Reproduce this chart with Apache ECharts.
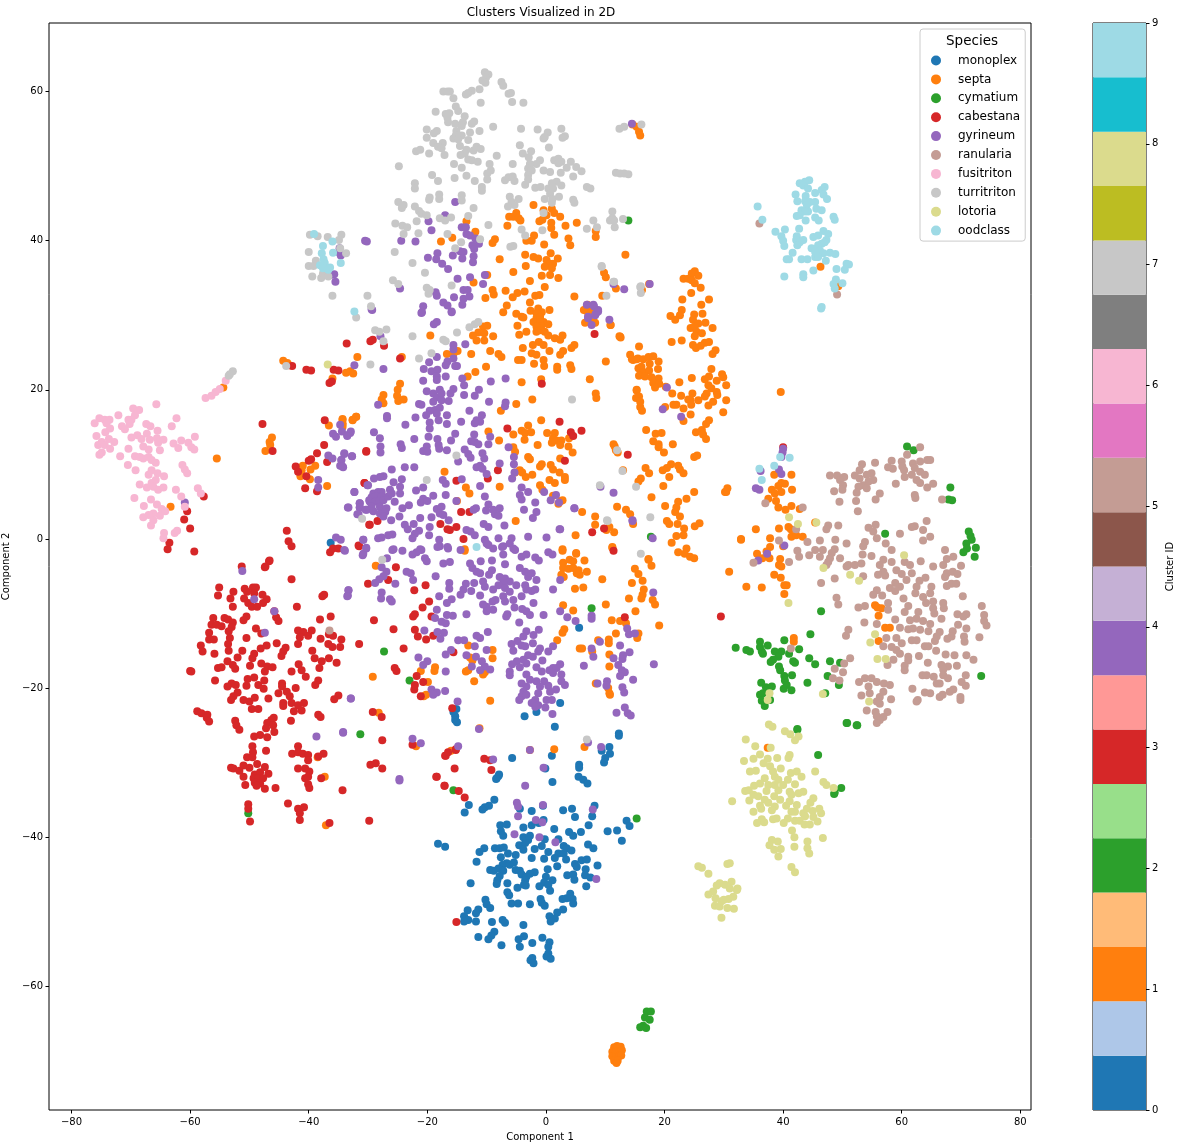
<!DOCTYPE html>
<html>
<head>
<meta charset="utf-8">
<script src="https://cdn.jsdelivr.net/npm/echarts@6/dist/echarts.min.js"></script>
<style>html,body{margin:0;padding:0;background:#fff}#c{width:1181px;height:1148px}</style>
</head>
<body>
<div id="c"></div>
<script>
const monoplex=[[-36.3,-.5],[-15.1,-22.8],[-15.6,-23.2],[-15.3,-23.8],[-15.3,-24.3],[-15,-24.6],[5.6,-11.9],[2.4,-22],[-1.6,-23.2],[-3.6,-23.8],[1.5,-25.2],[12.3,-26.1],[12.3,-26.4],[10.7,-27.9],[9.4,-28.4],[10.8,-28.8],[10,-29.4],[9.8,-30],[1,-29.1],[-5.7,-29.4],[-.1,-30.8],[5.6,-30.3],[5.6,-30.7],[-7.9,-31.6],[-8.3,-32.1],[5.5,-31.9],[6.3,-32.3],[7,-32.8],[-8,-31.8],[-8.4,-32.2],[1.1,-32.6],[-8.7,-35],[-9.6,-35.8],[-10.3,-36],[-10.7,-36.3],[-13,-35.7],[-13.7,-36.7],[-.5,-35.8],[-4.4,-36.2],[-2.4,-36.5],[2.9,-36.4],[4.4,-36.2],[4.9,-37.3],[8.2,-35.8],[7.8,-37.2],[7.2,-38.4],[13.6,-37.8],[14.1,-38.5],[10.4,-39.2],[12,-39.1],[12.8,-40.5],[-.4,-37.7],[-1.2,-38.1],[-2.4,-38.4],[-3.8,-38.7],[1.4,-38.9],[-7.7,-38.4],[-6.6,-38.3],[-7.6,-39.2],[-7.2,-39.8],[-3.8,-40],[-2.7,-39.8],[-3,-40.4],[-.2,-40.3],[2.1,-40.3],[3.9,-39.3],[4.6,-39.8],[5.9,-39.3],[-18.2,-40.9],[-17,-41.3],[7.1,-41],[8,-41.5],[-4.5,-41.1],[-3.5,-40.8],[-3.8,-41.7],[-1.9,-41.6],[-.7,-41.2],[-10.4,-41.5],[-11.2,-42],[-8.6,-41.5],[-7.8,-41.5],[-7.1,-41.4],[-11.7,-43.3],[-6.4,-42.2],[-5.1,-42.4],[-7.6,-42.7],[-2.4,-42.8],[-.3,-42.9],[.4,-42],[3,-41.2],[3.5,-41.5],[4.3,-41.8],[2.1,-42.2],[3,-42.2],[1.5,-42.8],[3.4,-43],[4.9,-43.6],[6,-43.1],[6.9,-43],[8.7,-43.8],[1.9,-43.9],[5.2,-44],[-6.6,-43.5],[-7.3,-43.7],[-6.1,-43.7],[-5.4,-43.4],[-8,-44.2],[-9.4,-44.4],[-8.8,-44.5],[-7.2,-44.5],[-5.1,-44.4],[-4.4,-44.5],[.3,-44.3],[-1.9,-44.7],[-2.7,-44.9],[-4.1,-45],[-3.3,-45.3],[6.7,-44.3],[3.6,-45.1],[4.6,-45],[6.6,-45.1],[7.5,-45.4],[4.8,-45.7],[-7.8,-45.2],[-8.2,-45.8],[-8.3,-46.3],[-6.5,-46.2],[-12.7,-46.2],[-3.5,-45.8],[-3.7,-46.4],[-4.8,-46.8],[-3.4,-46.5],[0,-45.3],[1.1,-45.8],[-.3,-46.1],[-1.1,-46.6],[.4,-46.4],[.7,-47.2],[6.8,-46.6],[-6.5,-47.4],[-6.2,-47.8],[-.9,-48.3],[2.8,-48.3],[4.1,-47.6],[4.5,-48.3],[4.6,-48.9],[3.5,-48.2],[-10.2,-48.4],[-10,-49],[-9.4,-49.5],[-5.8,-48.9],[-4.7,-48.9],[-2.7,-49],[-.7,-48.8],[-.2,-49.2],[2.9,-49.7],[1.9,-50.1],[-13.2,-49.8],[-11.4,-49.7],[-11.8,-50.2],[-13.8,-50.6],[-13.1,-51.1],[-13.8,-51.3],[-11.8,-51.3],[-9.1,-51.4],[-7.3,-51.1],[-6.9,-51.5],[.6,-50.6],[1.5,-50.9],[.8,-51.3],[-3.8,-51.8],[-8.7,-52.7],[-9.2,-53.2],[-9.7,-53.7],[-11.4,-53.4],[-7.5,-54.5],[-3.7,-53.3],[-4.6,-53.7],[-.6,-53.5],[-2.3,-54.2],[.6,-54.1],[.4,-54.7],[-4.4,-54.7],[.4,-55.6],[.1,-56],[.8,-56.3],[-2.3,-56.2],[-2.6,-56.5],[-2.1,-56.9]];
const septa=[[-54.4,20.3],[-55.5,10.8],[-63.3,4.3],[-46.2,13.6],[-46.6,13],[-46.5,12.6],[-47.3,11.8],[-43.6,23.6],[-44.3,23.9],[-43.3,23.3],[-33.7,22.3],[-33,22.5],[-32.5,22.2],[-36,21.5],[-36.6,15.2],[-34.3,16],[-34.3,15.5],[-34.3,15],[-32.6,16],[-32,16.4],[-41,9.8],[-41.2,9.2],[-41.4,8.4],[-38.9,9.8],[-39.7,9.3],[-39.8,8],[-36.9,7.1],[14.6,55.6],[15.3,55.3],[15.7,54.6],[15.9,54.1],[-2.1,44.8],[-.4,44.1],[1,44.3],[1.4,43.7],[2.4,43.2],[.1,43.4],[-.6,42.8],[-1.1,42.6],[-5,43.7],[-6.2,43.2],[-5.5,43.2],[-4.6,43],[-4.3,42.7],[5.2,42.4],[-6.5,42],[.9,42.4],[.9,41.7],[3.3,42],[8.4,41.3],[8.4,40.5],[1.4,40.8],[-13.4,42.6],[-11.9,41.2],[-15.8,40.4],[-17.7,39.9],[-8.6,40.2],[-9,39.7],[-2,40.7],[-2.4,40],[-3.3,40],[3.8,40.3],[4.1,39.4],[-.3,39.5],[13.4,38.1],[-3.5,38.1],[-2.1,37.8],[-1.3,37.6],[.8,38.3],[2,37.6],[.1,37.4],[.7,36.9],[1.2,36.9],[-.2,36.5],[1,36.3],[-7.8,37.5],[-3.4,36.6],[-5.5,35.8],[-.7,35.3],[.7,35.4],[2.1,35],[-9.9,35.4],[-12.2,34.4],[-2.7,34.6],[-.2,33.8],[-6.8,33.3],[-5.6,32.4],[-4.8,33],[-3.6,33.2],[-1.8,32.6],[-1.1,32.7],[-2.7,31.7],[-9,33.4],[-8.8,32.8],[-10.2,32.3],[4.8,32.5],[9.5,32.6],[9.8,35.7],[10.1,35.1],[11.8,33.6],[16.2,33.4],[17.4,34.2],[-6.6,31.3],[-7.2,30.4],[-5,30.2],[-4.1,29.8],[-2.6,30.6],[-1.3,30.9],[-.7,30.4],[.6,30.7],[-1,29.8],[6.9,31.2],[6.8,30.6],[7.5,30.4],[-1.6,29.6],[-3.8,29.7],[-1.6,30.3],[-1,29.7],[-2.1,29.1],[-.4,29.1],[-4.8,28.6],[-1,29],[-.8,28.5],[.4,28.8],[-1.6,28.5],[-1,28],[-.2,27.8],[-4.5,27.4],[-3.3,27.8],[-1.6,27.8],[.4,27.3],[1.5,26.9],[2.8,27.3],[2.4,26.7],[-1.2,26.4],[-.4,26],[.6,25.2],[-2.2,26],[-3.9,25.6],[-2.4,24.9],[-1.6,24.7],[2.9,25.2],[2.4,24.7],[4.8,26],[4.3,25.6],[12.5,27.1],[10.9,28.7],[7.2,30],[7.4,29.4],[-10.6,28.5],[-9.9,28.6],[-11.4,27.7],[-10.4,27.6],[-12.3,27.3],[-8.9,27.2],[-11.7,26.6],[-10.4,26.6],[-19.5,27.3],[-12.6,24.8],[-9.4,25.2],[-8,24.8],[-7.5,24.4],[-4.7,24],[-4.1,24],[-2,23.5],[-.4,24],[-.3,23.2],[1.9,23.1],[1.9,22.7],[4.1,23.3],[4.3,22.8],[10.1,23.8],[-16.7,24.8],[-15.6,24.8],[-14.9,25.2],[-24.3,24.4],[-31.8,24.4],[-10.1,23.1],[-11.9,22.4],[-13.2,21.8],[-24.6,20.8],[-25,20],[-27.4,19.3],[-27.7,18.7],[-27.4,18.2],[-25.1,19.2],[-24.9,18.5],[-24,18.7],[-4.1,21],[-.8,21.4],[7.4,21.4],[8.4,19.5],[8.5,18.9],[-2.3,18.7],[-5,18.1],[-7.6,17.2],[-32,16.4],[-32.6,15.9],[-34.3,16.1],[-34.3,15.3],[-.8,15.9],[14.2,24.7],[14.7,24],[15.5,24.2],[15.6,22.9],[15.3,20],[15.2,18.9],[15.9,17.7],[-3,15.2],[-4.1,14.5],[-3.5,14.2],[-2.5,14.3],[-5.5,14],[-9.7,14.4],[-7.9,13.2],[-3.6,13.3],[-1.4,12.6],[.2,14.2],[1.5,14.2],[1.2,13.5],[1.8,13.2],[1,12.9],[2.6,13.2],[3.9,13.5],[2.4,12.6],[3.8,12.4],[4.5,11.6],[-5.5,12.3],[-5.2,11.7],[-3,11],[-2.7,10.7],[2.4,10.8],[-.7,10],[-1,9.7],[.8,9.9],[1.2,9.3],[2.3,8.9],[3.2,8.3],[3.2,7.9],[-4.4,9.2],[-4,8.9],[-5.2,8.9],[-3.4,8.3],[-2.3,8.6],[.6,7.9],[1.5,7.5],[-1,7.2],[-.6,6.6],[-7.8,7],[-13.5,6.9],[-12.9,6.1],[-17.1,9],[-15,5.1],[1.2,5.8],[2.5,5.1],[2.1,4.7],[6.1,3.6],[12,4.3],[13.5,3.9],[14.2,3.3],[14.7,2],[8.3,3],[8.3,1.9],[10.7,1.6],[11.5,.9],[10.2,1.2],[5,.5],[-5.1,2.4],[11.2,-1.1],[11.4,12.7],[11.6,12.4],[11.8,11.9],[12.1,11.6],[13,9.2],[-13.7,-1.4],[2.8,-1.4],[25.1,35.9],[24.6,35.6],[23.2,34.9],[24,34.9],[25.7,35.3],[24.6,34.7],[25.1,34.3],[26.1,33.7],[24.5,33],[27.5,32.1],[23,32.1],[26.2,31.4],[22.9,30.7],[22.6,30],[21,29.9],[21.8,29.4],[25,30.1],[26.4,30.2],[24.8,29.4],[26.9,29],[24.4,28.3],[25.7,28.9],[25.1,28.5],[25.4,27.8],[26.3,27.6],[28.1,28.3],[25.1,27.2],[21.2,26.4],[22.9,26.6],[26.8,26.3],[27.5,26.4],[24.8,26],[25.3,25.6],[26.1,25.9],[28.6,25.3],[28.1,24.8],[15.7,25.8],[14.5,24.1],[15.3,24.1],[16.4,24.1],[17.3,24.4],[18.1,24.5],[19,23.8],[17.5,23.5],[16.1,23.1],[18.9,22.8],[16.4,22.4],[17.4,22.6],[15.7,21.9],[16.7,21.8],[17.8,21.7],[19,21.5],[18.1,20.9],[19.1,20.8],[18.4,20.3],[20.2,20.4],[22.5,21],[24.6,21.6],[27.9,22.8],[26.8,21.4],[27.5,21.8],[28.8,21.2],[29.7,22.1],[29.9,21.7],[30.4,20.6],[27.4,20.6],[27.9,20.2],[15.3,19.9],[21.3,19.5],[24.7,19.5],[27.1,19.5],[28.8,19.7],[22.8,19.2],[26.8,19.1],[28.9,19.3],[30.4,18.6],[25.7,18.6],[24.4,18.6],[15.7,19.1],[15.9,18.4],[24,18.7],[28.2,18.4],[27.4,17.9],[24.5,18],[21.5,18],[22,18],[23.2,17.5],[20.1,17.7],[16.2,17.2],[24.4,16.7],[29.9,17],[23.2,15.8],[27.5,15.9],[27,15.4],[16.9,14.6],[19.5,14.2],[18.5,14.1],[25.3,14.3],[26.3,14.6],[26.5,14],[27,13.4],[18.1,13.1],[19,12.7],[19,12.3],[21.4,12.7],[19.9,11.6],[25,11],[25.5,11.2],[21.1,10],[22.3,9.8],[22.6,9.3],[23.2,8.8],[20.4,9.5],[19.7,9.2],[16.8,9.5],[17.4,8.8],[20.8,8.3],[16,8.1],[15.6,7.7],[19.8,7.1],[25,6.3],[30.4,6.3],[30.6,6.8],[17.8,5.6],[23.7,5.4],[22.3,5],[20.1,4.4],[22,4.2],[21.8,3.6],[22.6,3],[20.4,2.4],[20.8,2],[22.2,2],[23.3,1.4],[25.1,1.7],[25.9,2.1],[22,.4],[23.2,.5],[21.2,-.5],[32.9,0],[35.4,1.3],[22.3,-1.8],[23.7,-1.3],[23.4,-2],[24.3,-2.4],[25,-2.6],[5.1,-2],[17.3,-2.7],[2.8,5.2],[6.4,30.7],[7,31.4],[7.4,30.7],[6.6,29],[8.3,29],[10.9,28.7],[12.4,27.2],[12.6,27],[-13.7,-1.6],[2.8,-1.6],[5.1,-1.9],[11.2,-1.2],[17.3,-2.8],[17.8,-3.6],[15,-4],[15.6,-4.7],[16.3,-5.6],[14.5,-5.9],[9.5,-5.4],[2.9,-3.2],[4,-2.8],[4.6,-3],[6.5,-2.9],[2.9,-3.9],[3.8,-4],[4.6,-3.9],[5.5,-4.2],[6.9,-4.4],[5.7,-4.8],[5.2,-4.6],[2.6,-4.8],[3,-5.1],[6.3,-6.5],[4.9,-6.7],[16.5,-6.8],[16.3,-7.5],[16.1,-8],[14,-8],[18,-8.2],[18.4,-8.8],[10.1,-8.8],[2.9,-8.9],[4.6,-9.6],[15.1,-9.7],[11.1,-10.9],[12.5,-11],[13.5,-11.3],[19.1,-11.6],[11.8,-12.7],[15.6,-12.7],[15.4,-13.3],[3.1,-12.1],[2.8,-12.6],[1.9,-13.6],[8.8,-13.6],[10.6,-13.5],[10.6,-14],[5.7,-14.7],[6.1,-14.7],[7.8,-15.1],[10.7,-15.5],[10.7,-17.1],[8.4,-19.4],[10.5,-20],[10.7,-20.7],[10.8,-20.9],[-13.1,-14.3],[-9,-14.9],[-9,-16],[-12.8,-15.9],[-12.4,-16.3],[-13.5,-17.8],[-13.1,-17.6],[-10.6,-18.2],[-10.3,-17.9],[-12.1,-19.1],[-21.1,-17.7],[-18.7,-17.2],[-18.8,-17.7],[-29.2,-18.5],[-19.9,-19.2],[-20.2,-20.9],[-20.6,-21.1],[-28.7,-3.6],[-9.4,-21.7],[-28.2,-23.3],[-11.2,-25.4],[-21.9,-27.8],[-16,-28.4],[-2.7,-28.3],[1.4,-28.2],[6.5,-27.9],[-38.5,-29.3],[-37.3,-31.9],[-37.1,-38.4],[30.2,6.3],[38.5,8.6],[41.4,8.6],[39.7,7.5],[40.3,7.4],[39.2,7.1],[38.1,6.6],[39.7,6.3],[41.5,6.6],[38.6,6.1],[37.5,5.4],[38.8,5.1],[39.2,4.2],[41.4,4.4],[40.4,3.9],[42.8,4],[32.9,-.1],[39.3,1.4],[40.9,1.6],[41.3,1.3],[45.4,2.2],[41.4,.3],[42.2,.5],[43.3,.3],[37.8,.1],[37.8,-1.1],[40,-1],[35.6,-2],[37.2,-1.7],[36.5,-2.6],[37.7,-2.6],[39.5,-2.7],[39.3,-3.5],[39.7,-3.7],[30.9,-4.4],[38.5,-4.8],[39.6,-5.2],[33.8,-6.4],[36.4,-6.5],[40.6,-6.2],[40.2,-6.2],[40.2,-7.4],[55.5,-8.9],[55.9,-9.2],[56.6,-9.3],[56.1,-10.3],[57.2,-11.9],[58,-11.9],[56.1,-13.7],[41.8,-13.3],[41.8,-13.8],[37.4,-28],[46.3,36.5],[49.3,33.9],[39.6,19.7],[11.5,-68.2],[12,-68],[12.6,-68.1],[11.2,-68.8],[11.8,-68.8],[12.4,-68.8],[12.8,-68.6],[11.2,-69.4],[11.8,-69.5],[12.3,-69.4],[12.7,-69.3],[11.5,-70],[12.1,-70],[11.9,-70.3]];
const cymatium=[[-27.3,-15.1],[-23,-19],[-31.3,-26.2],[-50.2,-36.8],[7.7,-9.3],[-15.6,-33.7],[15.3,-37.5],[13.9,42.7],[17.7,.3],[60.9,12.4],[62,11.9],[68.2,6.9],[67.9,5.3],[68.5,5.2],[57.2,.7],[71.3,1],[71.6,.4],[71.8,-.1],[70.9,-.6],[71,-1.3],[72.5,-1.2],[70.4,-1.8],[72.3,-2.4],[46.4,-9.7],[44.6,-12.8],[73.4,-18.4],[32,-14.6],[33.8,-14.9],[34.4,-15.1],[36.1,-13.8],[36.1,-14.5],[36.4,-15.1],[36.6,-15.4],[37.4,-14.3],[40.2,-13.6],[42.7,-14.8],[38.6,-15.1],[39.7,-15.1],[39.2,-15.8],[41,-15.4],[38.3,-16.2],[37.9,-16.5],[41.7,-16.4],[42,-16.6],[39.3,-17.1],[39.5,-17.6],[44.4,-16],[45.4,-16.8],[47.9,-16.4],[49.6,-16.6],[47.5,-18.4],[49.4,-19.6],[41.5,-18.3],[40.2,-18.4],[40.3,-19],[40.6,-19.6],[40.1,-20.1],[41.4,-20.3],[44.1,-19.3],[36.3,-19.3],[37.1,-19.9],[38.1,-19.8],[36.1,-20.9],[36.6,-20.7],[36.4,-21.7],[36.9,-22.4],[37.8,-21.6],[47.1,-20.7],[50.7,-24.7],[52.4,-25],[42.4,-25.5],[42.4,-25.6],[50.8,-24.7],[52.5,-25],[45.9,-29],[49.8,-33.4],[48.7,-34],[48.6,-34.2],[17,-63.4],[17.7,-63.4],[16.7,-64.2],[17.5,-64.5],[16.4,-65.3],[15.9,-65.5],[16.9,-65.6]];
const cabestana=[[-57.7,5.7],[-60.5,3.7],[-61,2.6],[-60,1.4],[-63.5,-.5],[-63.8,-1.4],[-59.3,-1.7],[-47.8,15.4],[-46.1,11.8],[-51.3,-3.7],[-47.4,-3.8],[-46.7,-3],[-42.9,-5.4],[-55.1,-6.5],[-55.3,-7.6],[-52.7,-7.1],[-50.8,-6.7],[-50.4,-7.1],[-49.4,-6.5],[-48.9,-6.5],[-49.2,-7.3],[-47.8,-7.5],[-47.1,-8.1],[-50.9,-8],[-53.2,-8],[-52.8,-9.1],[-50.2,-8.6],[-49.6,-9.1],[-48.7,-9.1],[-47.7,-8.6],[-42,-9.1],[-45.8,-9.7],[-45.5,-10.5],[-45.1,-11],[-37.7,-7.7],[-37.4,-7.5],[-56.1,-10.6],[-54.2,-10.6],[-53.6,-10.8],[-50.5,-10.4],[-51,-10.9],[-56.4,-11.5],[-55.5,-11.5],[-54.7,-11.7],[-52.8,-11.2],[-53,-11.8],[-53.5,-12.4],[-56.8,-12.6],[-48.9,-12],[-48,-12.7],[-38.1,-10.8],[-36.3,-10.4],[-29,-10.9],[-25.7,-12.1],[-22.2,-6.9],[-53.3,-13.3],[-53.6,-14.1],[-56.8,-13.5],[-56,-13.5],[-50.5,-13.3],[-41.8,-12.3],[-40.9,-12.5],[-39.5,-12.3],[-40.1,-13],[-41.5,-13.2],[-41.8,-14.1],[-38,-13.4],[-36.6,-12.8],[-35.9,-13],[-34.5,-13.5],[-45.4,-14],[-36.7,-14.1],[-36,-14.5],[-34.7,-14.5],[-31.5,-14.1],[-58.2,-14.3],[-57.9,-15.1],[-55.9,-15.4],[-53.5,-15],[-51.2,-15],[-47.1,-14.3],[-48.1,-14.7],[-43.9,-14.6],[-44.3,-15.1],[-44.6,-15.7],[-49.2,-15.4],[-49.5,-16],[-52,-15.9],[-39.4,-15],[-39,-16],[-37.8,-16.4],[-36.6,-16],[-35.3,-16.6],[-24,-14.7],[-53.7,-16.4],[-52.8,-16.9],[-55.3,-17.3],[-54.7,-17.2],[-52.4,-17.4],[-49.9,-17],[-48,-16.7],[-47,-17.1],[-46.1,-17.2],[-47.4,-17.8],[-41.7,-16.8],[-42.9,-17.8],[-41.2,-17.6],[-40.5,-18.5],[-38.2,-17.3],[-60,-17.7],[-59.8,-17.8],[-25.5,-17.3],[-25.2,-17.7],[-55.8,-19],[-53,-19.4],[-50.3,-18.8],[-49.2,-18.6],[-47.5,-19],[-48.5,-19.6],[-50.5,-19.7],[-52.3,-19.6],[-53.7,-19.8],[-44.5,-19.4],[-44.5,-19.8],[-38.4,-19],[-38.9,-19.6],[-47.6,-20.1],[-42.2,-20],[-21.8,-18.4],[-22.1,-19.6],[-22.2,-20.2],[-20.7,-19.2],[-52,-20.6],[-52.7,-21.1],[-53.1,-21.6],[-45.1,-20.7],[-43.7,-20.5],[-43.2,-21.1],[-51,-21.6],[-50,-21.8],[-49.1,-21.3],[-46.8,-21.4],[-35,-21],[-35.7,-21.5],[-21.1,-21.1],[-44.3,-22],[-42.9,-22],[-41.8,-22.3],[-40.8,-22],[-42.5,-23.1],[-41.2,-23],[-44.3,-22.4],[-49.6,-22.8],[-48.5,-22.8],[-58.8,-23.1],[-58.1,-23.4],[-57.1,-23.6],[-57.2,-24],[-56.8,-24.5],[-52.4,-24.4],[-52.2,-25],[-51.7,-25.6],[-45.9,-24],[-46.3,-24.3],[-47,-24.7],[-46,-25],[-43,-24.4],[-38.4,-23.6],[-38,-23.9],[-29.2,-23.2],[-27.7,-23.9],[-47.2,-25.4],[-45.8,-25.9],[-48.2,-26.3],[-49.2,-26.5],[-47,-26.6],[-27.6,-27],[-22.5,-27.6],[-49.5,-27.8],[-47.2,-28.4],[-49.4,-28.6],[-50.4,-29.3],[-49.5,-29.3],[-41.8,-27.8],[-42.8,-28.8],[-41.8,-28.6],[-41,-28.8],[-40.1,-29],[-40.1,-29.7],[-37.5,-28.8],[-38.4,-29.2],[-17,-29.1],[-48.7,-30.2],[-47.4,-30.6],[-53.1,-30.7],[-52.7,-30.8],[-50,-30.7],[-51,-30.4],[-51.7,-31.1],[-41.8,-30.8],[-40.6,-30.8],[-39.9,-31.2],[-29.6,-30.3],[-28.7,-30.1],[-27.6,-30.8],[-51,-31.9],[-49.1,-31.6],[-48.2,-31.3],[-46.8,-31.5],[-49.3,-32.1],[-48.5,-32.1],[-47.7,-32.1],[-49.1,-32.7],[-48.2,-32.8],[-50.7,-33],[-47.4,-33.5],[-48.8,-33.1],[-45.6,-33.4],[-40.6,-32.1],[-40.1,-31.9],[-37.9,-32.1],[-40.1,-32.9],[-39.9,-33.4],[-34.3,-33.7],[-18.5,-31.9],[-17.1,-33.1],[-50.2,-35.6],[-50.2,-36.2],[-43.5,-35.5],[-41.8,-36.2],[-40.8,-36],[-41.5,-36.8],[-49.9,-37.9],[-41.5,-37.7],[-36.5,-38.1],[-29.8,-37.8],[-30,-6],[-26.6,-5.5],[-25.3,-3.8],[-20.3,-6.2],[-19.7,-8.4],[-20.8,-9.2],[-22.4,-10.4],[-22.1,-10.1],[-19.3,-10.4],[-22.1,-12.2],[-21.6,-13.1],[-20.2,-13.5],[-19,-13],[-37.3,15.9],[-37.4,12.6],[-38.6,11.5],[-39.6,10.7],[-40,10.5],[-36.9,10.3],[-30.3,11.8],[-42.2,9.7],[-41.8,9],[-40.4,8.4],[-40.6,6.8],[-38.6,6.4],[-30.6,7.5],[-29.8,1.9],[-43.7,1.1],[-43.4,-.3],[-42.9,-1],[-31.5,-1],[-36.4,-1.8],[-35.9,-1.3],[-35,-1.3],[-46.6,-2.9],[-47.3,-3.7],[-42.8,23.2],[-40.4,22.7],[-39.6,22.6],[-35.8,22.7],[-35,22.6],[-36.1,21.1],[-36.5,20.9],[-10.4,-29.5],[-9.4,-29.7],[-9.2,-31],[-15.4,-30.8],[-18.4,-31.9],[-17.1,-33.1],[-14.7,-33.8],[-13.7,-34.7],[-16.9,-29.1],[-16.5,-28.6],[-15.2,-28.3],[-15.1,-51.4],[-15.6,-15.2],[-15.8,-22.7],[-15.2,-28.2],[13.3,-10.5],[11.4,-1.6],[-33.6,26.2],[-29.6,26.5],[-29.2,26.7],[-27.3,25.9],[-24.6,24.2],[-.7,20.8],[8.2,27.5],[-6.5,14.8],[2.3,15.7],[4.2,14.3],[4.6,13.8],[6,14.5],[3.2,10.5],[13.8,11.3],[-30.3,11.7],[-8.1,9.2],[-9.8,8.1],[-15.1,7.8],[-30.6,7.5],[-28.4,2.4],[-29.7,1.9],[-14.3,3.6],[-12.9,3.6],[-17.8,2],[-16.2,1.2],[-16.6,1.3],[-15.1,1.6],[-13.9,0],[-31.6,-.9],[7.8,.9],[9.8,1.4],[40,12.3],[29.5,-10.4]];
const gyrineum=[[-60.9,4.9],[-32.3,23.3],[-35.9,14.1],[-35.4,13.7],[-34.4,14.4],[-33.5,13.9],[-32.9,14.4],[-34.7,15.3],[-36.7,11.2],[-36,10.8],[-34,11.4],[-34.5,10.6],[-34.7,9.8],[-34.2,9.6],[-32.7,11.1],[-38.4,7.9],[-38.4,6.9],[-32.3,6.3],[-33.4,4.2],[-31.4,4.8],[-31.4,4.2],[-31.8,3.3],[-30.2,3.9],[-29.8,5.2],[-30,7.2],[-35.4,.2],[-34,-1.5],[-30.8,-.1],[-30.3,-1.3],[-30.9,-2.2],[-51.2,-4.3],[-33.3,-6.9],[-33.4,-7.6],[-29.3,30.7],[-21,30.3],[-15.9,30.5],[-27.9,27.2],[-18.4,29.1],[-18.9,28.8],[-15.6,26],[-15.6,25.4],[-13.6,26.1],[-18.4,24.4],[-19.7,23.7],[-16.6,23.8],[-16.9,23.3],[-15.6,24.2],[-15,23.2],[-15.3,23.2],[-20.6,22.8],[-19.3,22.5],[-18.3,22.7],[-18.4,21.8],[-18.4,21.3],[-16.9,21.8],[-20.7,21.2],[-14.1,21.5],[-13.8,20.6],[-9.3,21.1],[-6.8,21.5],[-27.4,22.8],[-20.1,19.8],[-19,19.5],[-17.9,20],[-18.4,19],[-17.6,19.5],[-17.6,18.6],[-19,18.4],[-15.6,20.1],[-16.1,19.5],[-16.4,18.5],[-13.8,19.3],[-11.3,20],[-12,19.2],[-9.6,18.4],[-6.8,18.3],[-6.9,17.8],[-21.4,18.1],[-21,18],[-28.3,18],[-19.6,17.2],[-18.7,17.3],[-17.9,17.6],[-18.4,16.8],[-20.2,16.6],[-16.7,16.6],[-12.9,17.2],[-10.8,16.6],[-11.7,15.9],[-11.1,15.7],[-12,15.5],[-26.8,16.5],[-26.8,16.2],[-22,16.3],[-19.6,15.6],[-18.1,15.9],[-16.7,15.4],[-14.3,15.7],[-23.7,15.3],[-19.6,14.8],[-29,14.3],[-33,14.2],[-33.5,13.8],[-28,13.5],[-22.2,13.4],[-19.8,13.7],[-15.3,14.1],[-12.1,14],[-9.4,13.7],[-18.3,13.4],[-16,13.2],[-12.6,13.1],[-12,13],[-11.4,12.7],[-9.7,12.7],[-24.5,12.7],[-24.3,12.2],[-27.9,12.4],[-27.9,11.6],[-18.1,12.6],[-18,12.1],[-20.1,12.4],[-20.7,11.8],[-20,11.7],[-16.7,11.9],[-13.7,12],[-10.7,11.5],[-13.1,11.4],[-12.7,10.9],[-34,11.5],[-32.7,11.1],[-34.5,10.6],[-34.3,9.7],[-14.8,10.4],[-10.4,10.8],[-6.3,12.3],[-5.4,11],[-5.4,10],[-7.8,10.1],[-11.1,9.8],[-11.7,9.6],[-10.7,9.4],[-10,8.7],[-5.3,8.9],[-5.7,8.1],[-23.8,9.6],[-22.2,9.6],[-26,9.3],[-27.4,8.4],[-28,8.3],[-29,8.1],[-24.3,8],[-25.7,7.6],[-30.1,7.2],[-17.4,7.9],[-16.9,7.4],[-14.2,8],[-11.1,7.1],[-4.1,6.9],[-3,6.3],[-24.6,7],[-32.3,6.3],[-26.3,6.6],[-24.6,6.1],[-21.9,6.5],[-20.7,6.9],[-19,5.8],[-16.9,5.9],[-10.3,5.7],[-4.4,5.9],[-4.1,5.3],[-.3,6.3],[1.7,5.9],[.8,5.2],[2.2,4.9],[-29.1,6.1],[-28.3,6.3],[-27.7,6.3],[-29.4,5.6],[-28.6,5.7],[-27.7,5.7],[-29.7,5],[-28.8,5],[-28.1,5.1],[-27.4,5.2],[-26.6,5.7],[-26,6.1],[-25.5,5],[-31.4,4.8],[-31.4,4.2],[-29.4,4.3],[-28,4.3],[-26.9,4.1],[-30.4,3.9],[-29.1,3.7],[-28,3.4],[-27.1,3.6],[-31.6,3.3],[-33.3,4.2],[-26.1,2.5],[-27.4,3],[-24.2,4.1],[-23.1,4.5],[-24.7,3],[-21.1,4.9],[-20.7,5.4],[-20,5.1],[-18.4,4],[-17.6,4.3],[-17.9,3.4],[-17.3,3.2],[-15.1,5.1],[-12.2,3.9],[-11.8,4.1],[-9.7,4.6],[-10.1,3.8],[-8.9,3.9],[-7.8,4.1],[-8.6,3.3],[-8,3.1],[-3.7,3.9],[-1.8,4.9],[-1.6,3.6],[-2.2,2.8],[4.8,4.1],[14.6,2.5],[-21.2,2.8],[-19.3,2.9],[-22.3,2],[-23.8,1.9],[-23.3,1.3],[-21.4,1.1],[-22.1,.7],[-22.5,.1],[-19.6,1.6],[-19.7,.5],[-16.4,2.5],[-13.4,1.2],[-12.7,1],[-12,.5],[-10.5,2],[-9.7,1.6],[-7,1.8],[-3,.3],[.1,.2],[2.3,1.3],[-25.9,.6],[-26.6,.5],[-27.7,.2],[-28.3,.1],[-30.8,-.1],[-25.7,-1.4],[-21.2,-1.4],[-18,-.1],[-17.9,-1],[-16.5,-1.3],[-10.3,-.1],[-9.7,-.8],[-8,.1],[-5.8,.1],[-6.1,-.6],[-7.2,-1],[-5.5,-1.3],[-8.9,-1.3],[-34.6,-.1],[-26.8,-2.6],[-24.2,-1.6],[-21,-1.5],[-21.8,-1.8],[-22.5,-2.1],[-20.4,-2.6],[-20.1,-3],[-30.8,-2],[-30.3,-1.2],[-33.9,-1.6],[-25.9,-1.5],[-27.7,-3.8],[-26.9,-4.4],[-27.4,-5],[-28.1,-5.4],[-28.8,-5.9],[-25.4,-6],[-23.5,-4.4],[-22.8,-4.6],[-22.4,-5.5],[-18.6,-5],[-17.3,-3.3],[-16.2,-3.1],[-33.3,-6.9],[-33.5,-7.7],[-27.7,-7.2],[-27.8,-8],[-26.3,-8.1],[-26,-8.4],[-12.8,-3.3],[-12.4,-3.9],[-11.7,-4.4],[-11.1,-4.6],[-11,-3],[-9.1,-2.9],[-6.9,-3.4],[-9.1,-4.2],[-9.6,-4.8],[-10.6,-5.7],[-10.3,-6.4],[-12.1,-5.9],[-13.5,-6],[-13.9,-6.8],[-14.4,-7.5],[-16.3,-5.9],[-16.3,-6.7],[-12.6,-7],[-11.1,-7.6],[-18,-7.7],[-15.9,-8.1],[-16.7,-8.6],[-18.4,-9.5],[-18.7,-10.6],[-17.6,-11.1],[-16.9,-11.3],[-16.7,-10.2],[-15.7,-10.3],[-13.4,-10.1],[-20.5,-12.3],[-18.3,-12.5],[-17.2,-12.6],[-17.8,-13.4],[-7.8,-5.1],[-6.9,-5.3],[-6.1,-5.7],[-7.2,-5.9],[-8,-6.2],[-8.9,-6.8],[-6.9,-6.6],[-6.1,-7.1],[-5,-6.2],[-3.5,-6.2],[-3,-5.1],[-3.5,-4.4],[-4.4,-3.9],[-2.4,-4.6],[-1.6,-5.5],[-3.3,-6.8],[-4.1,-7.7],[-2.4,-7],[-1.8,-6.8],[1.2,-6.8],[2.4,-5.5],[-4.1,-2.4],[-3.3,-2.1],[-1.8,-2.5],[-1.2,-2.9],[.4,-1.8],[1.1,-2.1],[-5.2,-1.5],[-7.2,-2.1],[-7.4,-1.1],[-10,-.6],[-14.4,-1.5],[-16.6,-1.1],[-18.3,-1.1],[-7.2,-7.7],[-5.5,-8.2],[-9,-8.4],[-8.5,-8.2],[-10,-9.1],[-10.6,-8.8],[-8.9,-9.5],[-10,-9.7],[-6.9,-8.4],[-5.3,-9.2],[-4,-9.4],[-3.3,-9.7],[-2.7,-10.2],[-6.5,-10.1],[-6.7,-10.4],[-2.1,-8.6],[-.4,-10.2],[2.4,-9.7],[3.6,-10.5],[5,-11],[7.7,-10.3],[7.7,-10.7],[-4.5,-11.2],[18.1,-7.2],[-9.8,-12.5],[-11.7,-13],[-11.1,-13.3],[-14.8,-13.6],[-13.8,-13.6],[-12,-14.4],[-10,-14.9],[-16,-14.9],[-16.9,-15.5],[-13.4,-15.6],[-11.8,-15.8],[-21.5,-15.9],[-20,-16.4],[-20.7,-16.9],[-16.9,-17.8],[-12.5,-17.1],[-10.8,-16.4],[-10.3,-17.1],[-9.4,-17.5],[-11.1,-17.6],[-19.3,-20.2],[-18.4,-20.6],[-19,-20.9],[-17,-20.4],[-32.9,-21.4],[-14.9,-21.8],[-34.2,-26],[-1.2,-12.2],[-3.3,-12.4],[-2.1,-12.9],[-3.8,-13.1],[-4.8,-13.7],[-5.8,-14.1],[-2.2,-14],[-4.1,-14.3],[-3.5,-14.4],[-5.5,-15],[-1.3,-15.1],[-1,-14.7],[1.2,-14.4],[.4,-15.1],[-3,-15.6],[-2.2,-15.8],[-3.8,-16.2],[-4.9,-16.4],[-.6,-16.3],[-5.7,-16.8],[-3.3,-16.7],[-4.4,-17.2],[-1.6,-17.2],[-.7,-17.8],[.6,-17.6],[1.2,-17.3],[2.4,-16.8],[1.8,-17.3],[1.2,-18],[-6.1,-17.8],[-6.1,-18.3],[-3.3,-18.2],[-2.7,-18.9],[2.6,-18.2],[-4.1,-19.4],[-1.6,-19.1],[-.3,-19.1],[-3.3,-19.8],[-1,-19.8],[.4,-19.7],[3.2,-19.6],[2.6,-19.1],[1.7,-20.2],[.7,-20.5],[-3.8,-20.5],[-1.3,-20.7],[-4.1,-21.1],[-3.3,-20.9],[-4.5,-21.6],[-1.8,-21.6],[.1,-21.6],[1,-21.6],[-2.4,-22],[-1.3,-22.3],[-.1,-22.6],[-1.8,-22.5],[1.1,-23.5],[7.7,-14.7],[8,-15.8],[6.4,-17],[9.1,-13.8],[12.5,-14.3],[11.4,-16],[14.1,-15.2],[13,-15.6],[12.9,-16.1],[12.2,-16.9],[12.8,-17.6],[13.3,-17.9],[12.5,-18.4],[14.7,-18.9],[18.2,-16.8],[8.7,-19.4],[10.3,-19.1],[10.2,-19.7],[12.9,-19.9],[13.2,-20.6],[13.3,-22.6],[11.9,-23.3],[13.8,-23.4],[14.3,-23.7],[13.7,-12],[14,-12.8],[15,-12.7],[-22.5,-26.8],[-21.1,-27.4],[-14.8,-27.8],[-11.3,-25.5],[-8.9,-29.6],[-.4,-30.7],[7.1,-27.3],[9.3,-27.9],[-2.7,-28.3],[-24.7,-32.2],[-3.5,-33.1],[-4.9,-35.4],[-4.7,-35.9],[-4.7,-37.2],[-.5,-35.7],[7.9,-36.3],[-1.7,-37.7],[-.6,-38],[-5.3,-39.6],[-1.1,-40],[1.6,-40.7],[8.5,-45.6],[-49.2,-8.1],[-47.4,-12.6],[-45.8,-9.7],[-32.9,-21.4],[-38.7,-26.5],[-34.2,-25.9],[-24.7,-32.4],[11.4,34.2],[13.2,33.5],[17.5,34.2],[6.9,31.4],[8,31.4],[8.8,30.7],[8.4,30.2],[7.1,29.6],[7.7,28.7],[10.7,29.4],[19.7,17.4],[22.8,16.4],[20.4,20.3],[9.2,7],[11.4,6.2],[4.8,4.1],[14.6,2.4],[18,.1],[2.4,1.3],[40,12.1],[39.9,11.6],[39.7,11],[39.3,9.3],[39.7,8.7],[35.4,6.8],[36,6.6],[40.2,-.9],[37.3,-2],[35.8,-2.9],[36.2,9.1],[-34.8,39],[-34.8,38.4],[-34.6,38],[-35.7,35.5],[-36.3,35.4],[-35.5,34.5],[-30.5,40],[-15.3,45.2],[-17,43.4],[-19.8,42.6],[-19.3,41.4],[-14.2,41.8],[-13.5,41.8],[-13.4,40.9],[-12.8,40.7],[-11.9,40.3],[-11.3,39.6],[-12.4,39.4],[-12.1,38.9],[-24.4,40],[-22,39.9],[-30.2,39.9],[-18.3,38.3],[-14.5,38.6],[-13.9,38.5],[-15.7,38],[-19.9,37.7],[-18.5,37.5],[-14.1,37.6],[-12.2,37.9],[-12.3,37.1],[-17.5,36.9],[-16.5,36.2],[-10.3,35.4],[-14.9,34.9],[-12.8,35.1],[-10.6,34.2],[-13.9,33.4],[-13.2,33.4],[-18.6,33.1],[-18.4,32.6],[-24.6,33.6],[-15.5,32.4],[-13.9,32.2],[-12.9,32.5],[-17.3,31.7],[-16.6,31.3],[-14.1,31.4],[-15.9,30.4],[-20.7,31.2],[-20.9,30.4],[-29.4,30.8],[8.1,31.2],[8.8,30.5],[8.3,30],[7.1,29.8],[14.5,55.7]];
const ranularia=[[-36.5,-12.3],[63.1,12.3],[60.9,11.3],[58.3,10.5],[55.5,10.2],[53.3,10],[60,10.4],[57.7,9.6],[58.5,9.4],[60.1,9.7],[60.4,9.2],[61.9,10.1],[63.1,10.4],[62.2,9.5],[64.3,10.6],[64.8,10.6],[63.1,9],[63.9,8.6],[61.7,8.6],[60.5,8.3],[62.5,7.9],[63.1,7.5],[65.3,7.4],[64.3,6.9],[59,7.4],[52.9,9.2],[54.9,8.8],[52.1,8.5],[54.1,8.6],[52.9,8.1],[55.2,7.9],[54.4,7.7],[53.5,7.2],[52.7,7],[54.1,6.8],[52.4,6.2],[56.3,6.1],[55.6,5.3],[52.3,5.1],[52.6,3.7],[47.9,8.5],[49.1,8.5],[50.3,8.3],[49.6,7.9],[50.1,7.2],[50,6.6],[48.6,6.4],[49.5,5],[62.2,5.9],[62.3,5.5],[66.8,5.3],[64.2,2.4],[62.2,1.7],[61.7,1.6],[63.6,1.2],[54.4,1.5],[55.6,1.9],[55.2,1],[59.7,.7],[64.8,.3],[63.6,-.2],[49.3,1.8],[47.6,1.8],[47.3,1.3],[42.2,1.3],[43.3,4.2],[37,4.8],[55.8,.1],[57.3,-.6],[53.8,-.4],[53.5,-1],[46.2,-.2],[48.8,-.1],[44.1,-.4],[50.7,-.6],[39.3,-.2],[58.3,-1.5],[45.4,-1.5],[48.7,-1.4],[46.7,-1.5],[42.4,-1.6],[67.3,-1.5],[53.4,-2.1],[54.9,-2.3],[44.4,-2.2],[46.2,-2.4],[48.2,-1.9],[47.9,-2.6],[49.6,-2.6],[42.7,-2.4],[68.7,-2.4],[67.6,-2.7],[56.9,-2.8],[58.3,-3.1],[63.2,-3],[60.5,-3.1],[61.4,-3.5],[47.6,-3.1],[35,-3.2],[41,-3.1],[47.3,-3.5],[51,-3.5],[52.1,-3.5],[53.2,-3.3],[56.3,-3.5],[65.3,-3.7],[67,-3.5],[70,-3.6],[50.7,-3.7],[56.9,-4.4],[59.1,-4.2],[61.7,-4.6],[60,-4.7],[56,-4.8],[57.2,-4.9],[53.5,-5],[64,-5.2],[48.7,-5.3],[67.6,-4.6],[68.6,-4.4],[69.4,-4.7],[67.3,-5.1],[60.8,-5.5],[58.9,-5.9],[63,-5.6],[46.4,-5.9],[59.7,-6.4],[58,-6.6],[58.9,-7],[65,-6.4],[62.5,-6.4],[67.6,-6.3],[68.4,-6],[69.2,-6],[55.8,-6.9],[55.2,-7.5],[56.7,-7.6],[64.8,-7.3],[62.3,-7.3],[63.6,-7.8],[70.3,-7.7],[49,-7.9],[60.3,-8],[57.7,-8.6],[49.3,-8.8],[65.3,-8.4],[64.1,-8.6],[67,-8.6],[52.7,-9.2],[53.8,-9],[61.1,-9],[67.1,-9.3],[73.5,-9],[65.3,-9.3],[57.7,-9.5],[60.5,-9.8],[62.8,-9.8],[65.5,-10],[69.4,-10.1],[70.9,-10.1],[73.9,-10.2],[70.4,-10.4],[66.7,-10.7],[58.9,-10.8],[61.4,-10.9],[62.5,-10.7],[63.6,-11],[64.8,-11.4],[53.7,-11.2],[55.8,-11.4],[69.5,-11.5],[73.9,-11],[74.3,-11.6],[59.7,-11.9],[61.1,-12.1],[61.9,-12],[63.1,-12.2],[64.5,-12.4],[51,-12.2],[50.6,-13],[66.4,-12.5],[68.6,-12.4],[70.9,-12],[68.4,-13.1],[67.7,-13.4],[65.9,-13.1],[65.6,-13.7],[70.5,-13.1],[70.6,-13.8],[73.1,-13.2],[57.4,-13.3],[59.1,-13.3],[61.7,-13.6],[62.5,-13.6],[56.9,-14.4],[58.3,-14.5],[60,-14],[63.9,-14.4],[64.5,-14.4],[65.8,-15],[59.1,-14.9],[59.7,-15.4],[61.1,-15.8],[62.9,-15.7],[67.4,-15.5],[68.9,-15.6],[70.9,-15.6],[51.3,-16],[50.3,-16.7],[58.6,-16.2],[61.1,-16.3],[64.4,-16.6],[72.1,-16.2],[57.6,-16.9],[60.5,-17],[66.7,-16.9],[67.8,-17.1],[69.3,-17],[60.5,-17.6],[48.7,-17.4],[50.1,-17.9],[67,-17.5],[63.5,-18.3],[64.2,-18.3],[65.4,-18.5],[67,-18.3],[67.8,-18.7],[70.8,-18.3],[48.4,-18.7],[49.5,-19],[53.8,-18.7],[52.8,-19.2],[54.9,-18.7],[55.8,-19.2],[54.4,-19.8],[57,-19.4],[58,-19.6],[65.9,-19.4],[66.4,-19.4],[70.1,-19.2],[70.8,-19.7],[61.8,-20.1],[68.7,-20.2],[68.1,-20.5],[53.2,-21],[54.6,-20.7],[56.3,-21.2],[56.9,-20.5],[63.9,-20.6],[64.8,-20.7],[66.9,-20.9],[66.4,-21.2],[69.9,-21.2],[69.9,-21.6],[62.7,-21.6],[62.5,-21.8],[58.2,-21.5],[55.8,-21.8],[56.3,-22.1],[54.1,-23],[55.6,-23.2],[57.6,-23.2],[55.8,-23.8],[56.9,-23.9],[56.3,-24.3],[55.8,-24.7],[41.3,-14.7],[49.1,32.8],[36,42.3]];
const fusitriton=[[-65.7,18.05],[-69.6,17.5],[-68.6,17.3],[-72.1,16.6],[-75.3,16.2],[-76.1,15.5],[-74.4,16],[-73.6,16],[-74.1,15.5],[-73.5,14.8],[-74.3,14.3],[-75.8,13.8],[-73.7,13.4],[-72.8,13],[-74.9,13],[-75.5,12.6],[-74.4,12.6],[-73.5,12.1],[-74.9,11.6],[-75.3,11.3],[-71.5,15.1],[-71,14.7],[-70.4,16],[-69.9,16],[-69.3,16.6],[-70.2,15.4],[-67.4,15.4],[-66.7,15.1],[-65.5,14.5],[-63.1,15.1],[-62.3,16.2],[-69.9,13.6],[-68.9,13.9],[-68.2,13.4],[-67.3,14.1],[-66.8,13.3],[-65.6,13.5],[-65.4,12.9],[-64.5,13.3],[-62.8,12.8],[-61.5,13.2],[-60.3,12.9],[-59.2,13.7],[-62,12.2],[-59.8,12.3],[-59.3,12],[-70.4,12.1],[-67.9,12.4],[-67,12],[-65.1,11.9],[-71.8,11.1],[-69.3,11.1],[-68.5,11],[-67.9,10.8],[-67,11],[-66.5,10.6],[-65.8,10.2],[-70.5,9.9],[-69.2,9.2],[-61.3,9.9],[-60.9,9.3],[-60.5,8.8],[-66.5,9.2],[-67,8.6],[-65.5,8.8],[-64.4,8.4],[-65.8,7.9],[-66.5,7.5],[-68.5,7.3],[-67.3,6.9],[-66.2,7],[-65.4,6.6],[-64.5,6.9],[-62.4,6.6],[-58.7,6.8],[-58.2,6.1],[-69.4,5.5],[-66.6,5.3],[-61.5,5.7],[-60.9,4.3],[-67.8,4.4],[-65.6,4.6],[-64.8,4],[-64.2,3.7],[-66.2,3.4],[-67,3.2],[-67.9,2.9],[-65.1,3.1],[-66.2,2.5],[-66.6,1.8],[-64.4,.8],[-64.5,.1],[-62.6,.8],[-62.2,1.1],[-57.4,18.9],[-56.4,19.2],[-55.7,19.7],[-55,20.1],[-54,21.2]];
const turritriton=[[-53.5,21.9],[-52.8,22.5],[-53.3,22.1],[-43.8,23.2],[-31,2.7],[-10.3,62.6],[-9.7,62.3],[-10.1,61.9],[-10.7,61.5],[-10.2,61.2],[-7.5,61.3],[-7.2,60.8],[-11.2,60.3],[-12.5,60.1],[-13.1,59.8],[-13.5,59.6],[-17.3,60],[-16.6,60],[-16.2,60],[-15.6,59.1],[-6.3,59.7],[-5.9,59.8],[-11,58.5],[-5.7,58.6],[-3.8,58.5],[-15.2,58],[-14.8,57.4],[-18.6,57.3],[-16.9,57],[-16.3,57.1],[-16.6,56.5],[-16.5,55.9],[-15.3,55.7],[-13.7,56.7],[-14,55.9],[-12.1,56],[-12.5,55.7],[-14.2,55.4],[-8.9,55.3],[-20.1,54.9],[-18.4,54.7],[-18.9,54.4],[-20.1,53.8],[-15.1,54.7],[-15.2,54.1],[-15.6,53.7],[-14.2,54.1],[-14.8,53.6],[-12.8,54.5],[-11.2,54.7],[-13.1,53.5],[-4.2,55],[-1.4,54.9],[.3,54.5],[2.6,55],[-.4,53.7],[-.2,53.9],[3.2,54],[2.8,53.8],[-19,53.1],[-17.4,53.1],[-18.2,52.6],[-17.6,52.4],[-21.9,52],[-21.2,52.2],[-19.7,51.7],[-17.1,51.5],[-14.5,52.7],[-13.4,52.2],[-13.7,51.7],[-12.2,52.1],[-11.7,52.6],[-11,52.3],[-14.4,51.5],[-4.4,52.8],[-2.5,52],[-3.9,51.7],[.5,52.5],[-8.3,51.4],[-2.9,51.2],[-13.1,50.9],[-12.5,50.8],[-11.5,50.6],[-15.5,50.3],[-24.8,50],[-14.2,49.8],[-9.5,50.3],[-9.3,49.4],[-9.9,49],[-5.6,50.3],[-1,50.8],[-1.6,50.3],[-2.7,50.3],[-3,49.7],[-2.4,49.4],[2.1,51],[1.4,50.8],[2.6,50.6],[2.1,50.4],[4.2,50.6],[3.5,49.8],[5.1,49.9],[6,49.3],[-.4,49.4],[.7,49.2],[2.5,49.1],[4.6,48.6],[-19.2,48.8],[-18.2,48],[-15.4,48.4],[-13.4,48.7],[-12,48],[-9.9,48.2],[-6.9,48.1],[-6.3,48.5],[-5.6,48.6],[-5.3,48],[-3,48.8],[-3,48.2],[-3.5,47.5],[-1.8,47.1],[-.9,47.2],[1.8,47.9],[1,47.7],[2.6,47.4],[.4,47],[1.2,47],[6.9,47.2],[7.5,47],[-22.1,47.7],[-22.1,47],[-10.8,47.2],[-10.8,46.7],[-14.2,46.1],[-19.6,45.8],[-19.7,45.5],[-18,46.2],[-18,45.6],[.7,46.3],[1.1,45.6],[2.2,45.9],[-.2,45.6],[-6.1,45.9],[-4.6,45.6],[4.6,45.5],[4.8,45.1],[-14.2,45.4],[-5.8,45.2],[-5.3,44.8],[-6.4,44.6],[1,45.1],[-24.9,45.2],[-24,44.8],[-24.3,44.4],[-22.1,44.6],[-21.4,44],[-21,43.6],[-20.1,43.4],[-12.2,44.4],[-13.1,43.3],[-16,43.1],[-17,42.7],[-17.9,43],[-.4,43.7],[11.2,43.9],[11.2,43],[10.8,42.7],[11.5,42.7],[13,42.9],[8,42.7],[-21.8,42.6],[-25.4,42.3],[-24.2,42],[-23.4,41.8],[-9.7,42.1],[6.9,41.6],[8.6,41.8],[11.6,41.8],[-.6,41.4],[-4.1,41.5],[-3.5,40.7],[-24,40.9],[-21.5,41],[-16.6,40.9],[-11.1,40.2],[-14.3,39.8],[-15.3,39],[-6,39.2],[-5.5,39.3],[-25.5,38.5],[-22.5,37],[-20.4,35.7],[9.4,36.5],[11.5,34.5],[-25.8,34.7],[-24.9,34.2],[-20.1,33.7],[-19.6,33.4],[-19.8,32.9],[-15.9,34],[10.2,32.6],[15.9,33.8],[16,33],[-30.1,32.6],[-29.5,31.2],[-32,29.7],[12.4,55],[13.2,55.3],[16.1,55.6],[11.8,49.1],[12.5,49],[13.2,49],[13.9,48.9],[-39.8,40.8],[-38.5,40.6],[-36.8,40.5],[-34.5,40.8],[-34.9,40.1],[-40,38.5],[-33.7,38.3],[-34.7,39],[-38.8,37.3],[-40,36.6],[-39.2,36.6],[-39.4,35.2],[-37.9,35],[-37.6,35.6],[-36.7,35.2],[-36,32.6],[-28.8,28],[-26.9,28.1],[-28.1,27.8],[-27.4,26.5],[-22.5,27.2],[-15,27.7],[-17.3,26.7],[-16.9,26.5],[-19.3,24.9],[-21.4,24.2],[-29.6,23.4],[-12.9,28.4],[-12,28.8],[-11.4,29.1],[4.4,18.7],[-15.1,11.2],[-20.1,7.9],[9.1,7.2],[12.9,9.1],[15.2,7],[10.3,2.5],[12,11.9],[-27.6,-2.8],[16,-2],[6.9,-26.9],[17.6,2.9],[10.4,2.4],[9.4,36.6],[11.4,34.5],[16,33.9]];
const lotoria=[[-36.8,23.4],[41,2.9],[42.5,2],[45.6,2.2],[46.8,-3.9],[51.3,-4.8],[52.8,-5.6],[40.9,-8.6],[60.4,-2.2],[55.5,-12.8],[54.7,-13.9],[55.9,-16.1],[57.3,-16.1],[37.7,-20.7],[37.4,-21.6],[46.7,-20.8],[54.5,-21.8],[37.6,-24.9],[38.2,-25.2],[40.3,-25.8],[41.2,-26.2],[42.6,-26.5],[42,-27],[33.7,-26.9],[35.3,-27.8],[37.9,-28],[36.1,-28.9],[41.1,-29],[40.9,-29.4],[33.4,-29.8],[35,-29.5],[37.4,-29.5],[39,-29.4],[36.7,-30.1],[37.8,-30.5],[39.6,-30.8],[38.3,-31.2],[34.4,-31.2],[35.4,-31.1],[41.3,-31.4],[42.3,-31.2],[45.4,-31.2],[43.1,-31.9],[38.6,-31.9],[36.9,-32.1],[39.2,-32.3],[40.8,-32.3],[36.1,-32.8],[37.5,-33],[38.6,-33],[35.1,-33.1],[42,-32.9],[46.8,-32.6],[47.3,-33],[48.5,-33.4],[40,-33],[33.6,-33.8],[34.2,-33.7],[37.2,-33.8],[39.2,-33.7],[41.1,-33.9],[43.4,-33.9],[42.6,-34.1],[35,-34.3],[35.8,-34.5],[38.5,-34.5],[41.4,-34.3],[39.5,-35],[36.9,-35],[34.3,-35.1],[31.4,-35.2],[41.1,-35.2],[37.5,-35.4],[42.3,-35.7],[45.1,-34.8],[44.6,-35.4],[36.1,-35.8],[38.6,-35.9],[40.5,-35.8],[36.3,-36.2],[38.1,-36.4],[41.4,-36.6],[44,-36.2],[46.1,-36.2],[45,-36.5],[42,-36.6],[35,-36.6],[43.4,-36.8],[46.4,-36.8],[43.7,-37.2],[38.9,-37.5],[38.3,-37.6],[40.8,-37.5],[45.1,-37.3],[42,-37.8],[42.8,-37.8],[45.8,-37.9],[36.8,-38],[36.4,-37.6],[35.6,-38.1],[40.1,-38.1],[43.6,-38.3],[44.5,-38.3],[41.5,-39.1],[41.9,-40],[46.7,-40.1],[38.1,-40.4],[39.1,-40.6],[44.1,-40.6],[37.7,-41.1],[39.6,-41.6],[38.5,-41.7],[41.9,-41.3],[44.1,-41.5],[44.4,-42.2],[39.2,-42.6],[41.4,-44],[42,-44.7],[31,-43.5],[30.6,-43.6],[25.7,-43.9],[26.3,-44.1],[27.4,-44.9],[31.3,-46],[32.3,-46.9],[29.3,-46.2],[30.2,-46.4],[28.8,-46.5],[31,-46.9],[28.2,-47.3],[27.4,-47.7],[32.2,-47.1],[31.6,-48],[28.6,-48.2],[30.8,-48.3],[29.6,-48.6],[30,-48.4],[28.5,-49.2],[29.3,-49.3],[30.6,-49.5],[31.7,-49.6],[29.6,-50.8]];
const oodclass=[[39.5,11],[41.1,10.9],[38.5,9.8],[36,9.4],[36.4,7.9],[44.4,48.1],[43.7,47.9],[42.8,47.7],[43.4,47.4],[44.2,47],[47,47.2],[46.5,46.8],[42.1,46.2],[45.4,46.4],[43.8,46],[46.8,46.2],[47.4,45.6],[42.4,45.3],[43.7,45.3],[44.5,45.2],[45.4,45.2],[44,44.8],[35.7,44.6],[45.6,44.3],[46.5,44.1],[43.1,44.1],[44.2,43.9],[43.7,43.9],[42.3,43.3],[42.8,43.4],[45.4,43.1],[46,42.7],[48.5,43.2],[48.7,42.8],[43.8,42.7],[36.5,42.8],[40.3,41.5],[42.7,41.6],[38.7,41.2],[39.7,40.6],[40,40],[42.3,40.6],[42.2,40.1],[43.4,40.1],[42.8,39.8],[45.1,40.5],[45.9,40.7],[46.8,41.3],[47.6,40.9],[47.3,40.1],[46.5,39.6],[40.2,39.3],[42.4,39.4],[45.9,39.4],[44.8,39],[47,39.8],[46.2,38.7],[45.4,38.5],[46.8,38.3],[41.6,38.4],[47.9,38.4],[48.8,38.2],[45.4,37.8],[45.9,37.8],[43.1,37.5],[44.1,37.5],[40.6,37.5],[41,37.5],[47.2,37.3],[50.7,36.9],[51.1,36.8],[50.4,36.1],[49,36.2],[45.1,36],[43.4,35.5],[43.4,35.1],[40.2,35.2],[48.9,34.8],[48.5,34.2],[50,34.3],[48.7,33.6],[46.4,30.9],[46.5,31.1],[-39.1,40.9],[-36,39.9],[-37.6,39.3],[-37.8,38.3],[-35.9,38.4],[-37.5,37.5],[-34.6,37],[-38.1,36.7],[-37.3,37],[-37.6,36.3],[-36.4,36.4],[-36.7,36.1],[-32.3,30.5],[-11.7,-1.1]];

const speciesNames=['monoplex','septa','cymatium','cabestana','gyrineum','ranularia','fusitriton','turritriton','lotoria','oodclass'];
const speciesValues=[monoplex,septa,cymatium,cabestana,gyrineum,ranularia,fusitriton,turritriton,lotoria,oodclass];
const speciesColors=['#1f77b4','#ff7f0e','#2ca02c','#d62728','#9467bd','#c49c94','#f7b6d2','#c7c7c7','#dbdb8d','#9edae5'];
const xTicks=[-80,-60,-40,-20,0,20,40,60,80];
const yTicks=[-60,-40,-20,0,20,40,60];
const colorbarTicks=[0,1,2,3,4,5,6,7,8,9];
const colorbarColors=['#1f77b4','#aec7e8','#ff7f0e','#ffbb78','#2ca02c','#98df8a','#d62728','#ff9896','#9467bd','#c5b0d5','#8c564b','#c49c94','#e377c2','#f7b6d2','#7f7f7f','#c7c7c7','#bcbd22','#dbdb8d','#17becf','#9edae5'];
const colorbarStep=[0.45];

const font='"DejaVu Sans"';
const minus=v=>String(v).replace('-','\u2212');
const chart=echarts.init(document.getElementById('c'),null,{renderer:'canvas'});
const scatter=speciesNames.map((n,i)=>({
  name:n,type:'scatter',xAxisIndex:0,yAxisIndex:0,data:speciesValues[i],symbolSize:8,
  itemStyle:{color:speciesColors[i],opacity:1},emphasis:{disabled:true},silent:true
}));
const cbar=colorbarColors.map((c,i)=>({
  type:'bar',xAxisIndex:1,yAxisIndex:1,stack:'cb',barWidth:'100%',data:[colorbarStep[0]],
  itemStyle:{color:c,borderWidth:0},silent:true,legendHoverLink:false,name:'cb'+i
}));
chart.setOption({
  animation:false,backgroundColor:'#fff',
  textStyle:{fontFamily:font,color:'#000'},
  title:[
    {text:'Clusters Visualized in 2D',left:536,top:2,textAlign:'center',textStyle:{fontFamily:font,fontSize:12,fontWeight:'normal',color:'#000'}},
    {text:'Species',left:967,top:29,textAlign:'center',z:20,zlevel:1,textStyle:{fontFamily:font,fontSize:13.5,fontWeight:'normal',color:'#000'}}
  ],
  legend:{
    data:speciesNames,orient:'vertical',left:920,top:29,
    padding:[24,5,3,11],itemGap:3.9,itemWidth:12,itemHeight:10,icon:'circle',
    backgroundColor:'#fff',borderColor:'#ccc',borderWidth:1,borderRadius:3,
    selectedMode:false,
    textStyle:{fontFamily:font,fontSize:12,color:'#000',padding:[0,0,0,11],lineHeight:15}
  },
  grid:[
    {left:49,top:23,width:982,height:1087,show:true,borderColor:'#000',borderWidth:1,backgroundColor:'#fff',outerBoundsMode:'none'},
    {left:1093,top:23,width:53,height:1087,show:true,borderColor:'#000',borderWidth:1,outerBoundsMode:'none'}
  ],
  xAxis:[
    {type:'value',gridIndex:0,min:-83.8,max:81.8,name:'Component 1',nameLocation:'middle',nameGap:22,
     nameTextStyle:{fontFamily:font,fontSize:10,color:'#000'},
     axisLine:{show:false,onZero:false},
     axisTick:{show:true,length:3.5,lineStyle:{color:'#000'},customValues:xTicks},
     axisLabel:{fontFamily:font,fontSize:10,color:'#000',margin:7,formatter:minus,customValues:xTicks},
     splitLine:{show:false}},
    {type:'category',gridIndex:1,data:['c'],show:false}
  ],
  yAxis:[
    {type:'value',gridIndex:0,min:-76.6,max:69.2,name:'Component 2',nameLocation:'middle',nameGap:33,
     nameTextStyle:{fontFamily:font,fontSize:10,color:'#000'},
     axisLine:{show:false,onZero:false},
     axisTick:{show:true,length:3.5,lineStyle:{color:'#000'},customValues:yTicks},
     axisLabel:{fontFamily:font,fontSize:10,color:'#000',margin:6,padding:[2,0,0,0],formatter:minus,customValues:yTicks},
     splitLine:{show:false}},
    {type:'value',gridIndex:1,min:0,max:9,position:'right',name:'Cluster ID',nameLocation:'middle',nameGap:19,nameRotate:90,
     nameTextStyle:{fontFamily:font,fontSize:10,color:'#000'},
     axisLine:{show:false,onZero:false},
     axisTick:{show:true,length:3.5,lineStyle:{color:'#000'},customValues:colorbarTicks},
     axisLabel:{fontFamily:font,fontSize:10,color:'#000',margin:6,padding:[2,0,0,0],customValues:colorbarTicks},
     splitLine:{show:false}}
  ],
  series:scatter.concat(cbar)
});
</script>
</body>
</html>
